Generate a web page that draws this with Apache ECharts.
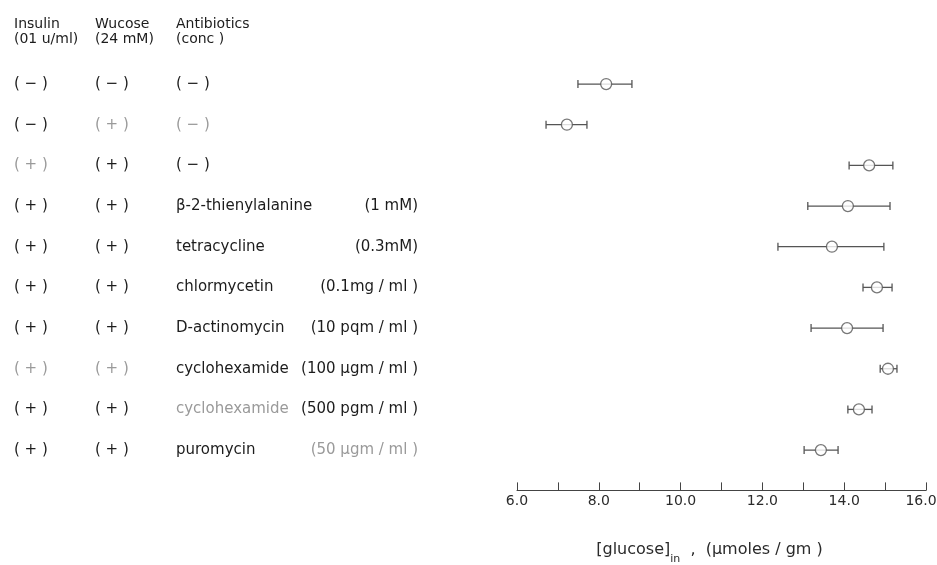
<!DOCTYPE html>
<html>
<head>
<meta charset="utf-8">
<script src="https://cdn.jsdelivr.net/npm/echarts@6/dist/echarts.min.js"></script>
<style>
  html, body { margin: 0; padding: 0; background: #ffffff; }
  #chart { width: 937px; height: 565px; }
</style>
</head>
<body>
<div id="chart"></div>
<script>
// Treatment table: one entry per row, top to bottom
const insulin    = ['( − )', '( − )', '( + )', '( + )', '( + )', '( + )', '( + )', '( + )', '( + )', '( + )'];
const glucose    = ['( − )', '( + )', '( + )', '( + )', '( + )', '( + )', '( + )', '( + )', '( + )', '( + )'];
const antibiotic = ['( − )', '( − )', '( − )', 'β-2-thienylalanine', 'tetracycline', 'chlormycetin',
                    'D-actinomycin', 'cyclohexamide', 'cyclohexamide', 'puromycin'];
const dose       = ['', '', '', '(1 mM)', '(0.3mM)', '(0.1mg / ml )', '(10 pqm / ml )',
                    '(100 µgm / ml )', '(500 pgm / ml )', '(50 µgm / ml )'];

// Intracellular glucose (µmoles / gm): mean and range ends per row
const meanGlucose = [8.18, 7.22, 14.61, 14.09, 13.70, 14.80, 14.07, 15.07, 14.36, 13.43];
const lowGlucose  = [7.49, 6.71, 14.12, 13.11, 12.38, 14.46, 13.19, 14.88, 14.09, 13.02];
const highGlucose = [8.81, 7.71, 15.19, 15.12, 14.97, 15.17, 14.95, 15.29, 14.68, 13.85];

// Axis
const axisMin = 6, axisMax = 16, axisStep = 1;
const headers = [['Insulin', '(01 u/ml)'], ['Wucose', '(24 mM)'], ['Antibiotics', '(conc )']];

// Cells printed lighter in the table (row-column)
const lightCells = { '1-1': 1, '1-2': 1, '2-0': 1, '7-0': 1, '7-1': 1, '8-2': 1, '9-3': 1 };

const FONT = 'DejaVu Sans';
const INK = '#1c1c1c';
const LIGHT = '#9a9a9a';
const BAR = '#555555';

const rowIdx = meanGlucose.map((_, i) => i);

function tableAxis(col, values, margin, align) {
  return {
    type: 'category',
    gridIndex: 0,
    position: 'left',
    inverse: true,
    data: values,
    axisLine: { show: false },
    axisTick: { show: false },
    splitLine: { show: false },
    axisLabel: {
      interval: 0,
      margin: margin,
      align: align,
      fontFamily: FONT,
      fontSize: 15,
      color: INK,
      formatter: function (v, i) {
        return lightCells[i + '-' + col] ? '{l|' + v + '}' : v;
      },
      rich: { l: { color: LIGHT, fontFamily: FONT, fontSize: 15 } }
    }
  };
}

const chart = echarts.init(document.getElementById('chart'), null, { renderer: 'canvas' });

const headerX = [14, 95, 176];
const headerGraphics = headers.map((h, k) => ({
  type: 'text',
  left: headerX[k],
  top: 17,
  style: {
    text: h.join('\n'),
    fontFamily: FONT,
    fontSize: 14,
    lineHeight: 15,
    fill: INK
  }
}));

chart.setOption({
  animation: false,
  backgroundColor: '#ffffff',
  graphic: headerGraphics,
  grid: {
    left: 517,
    right: 11,
    top: 63.7,
    bottom: 94.6,
    containLabel: false,
    outerBoundsMode: 'none'
  },
  xAxis: {
    type: 'value',
    min: axisMin,
    max: axisMax,
    interval: axisStep,
    offset: 20,
    axisLine: { show: true, lineStyle: { color: '#444', width: 1 } },
    axisTick: { show: true, inside: true, length: 8, lineStyle: { color: '#444', width: 1 } },
    splitLine: { show: false },
    axisLabel: {
      margin: 4,
      fontFamily: FONT,
      fontSize: 14,
      color: '#2a2a2a',
      showMinLabel: true,
      showMaxLabel: true,
      formatter: function (v) {
        if (Math.round(v) % 2 !== 0) return '';
        const s = v.toFixed(1);
        return v === axisMax ? '{m|' + s + '}' : s;
      },
      rich: { m: { fontFamily: FONT, fontSize: 14, color: '#2a2a2a', padding: [0, 10, 0, 0] } }
    },
    name: '[glucose]{sub|in}  ,  (µmoles / gm )',
    nameLocation: 'middle',
    nameGap: 44,
    nameTextStyle: {
      fontFamily: FONT,
      fontSize: 16,
      color: '#2a2a2a',
      lineHeight: 30,
      padding: [0, 24, 0, 0],
      rich: {
        sub: { fontFamily: FONT, fontSize: 11, color: '#2a2a2a', lineHeight: 12, verticalAlign: 'bottom' }
      }
    }
  },
  yAxis: [
    tableAxis(0, insulin, 503, 'left'),
    tableAxis(1, glucose, 422, 'left'),
    tableAxis(2, antibiotic, 341, 'left'),
    tableAxis(3, dose, 99, 'right')
  ],
  series: [
    {
      type: 'custom',
      name: 'range',
      xAxisIndex: 0,
      yAxisIndex: 0,
      encode: { x: [1, 2], y: 0 },
      data: rowIdx.map(i => [i, lowGlucose[i], highGlucose[i]]),
      renderItem: function (params, api) {
        const row = api.value(0);
        const a = api.coord([api.value(1), row]);
        const b = api.coord([api.value(2), row]);
        const cap = 4;
        const st = { stroke: BAR, lineWidth: 1.3 };
        return {
          type: 'group',
          children: [
            { type: 'line', shape: { x1: a[0], y1: a[1], x2: b[0], y2: b[1] }, style: st },
            { type: 'line', shape: { x1: a[0], y1: a[1] - cap, x2: a[0], y2: a[1] + cap }, style: st },
            { type: 'line', shape: { x1: b[0], y1: b[1] - cap, x2: b[0], y2: b[1] + cap }, style: st }
          ]
        };
      },
      z: 2
    },
    {
      type: 'scatter',
      name: 'mean',
      xAxisIndex: 0,
      yAxisIndex: 0,
      data: rowIdx.map(i => [meanGlucose[i], i]),
      symbol: 'circle',
      symbolSize: 11,
      itemStyle: { color: '#ffffff', borderColor: BAR, borderWidth: 1.3 },
      z: 3
    }
  ]
});
</script>
</body>
</html>
